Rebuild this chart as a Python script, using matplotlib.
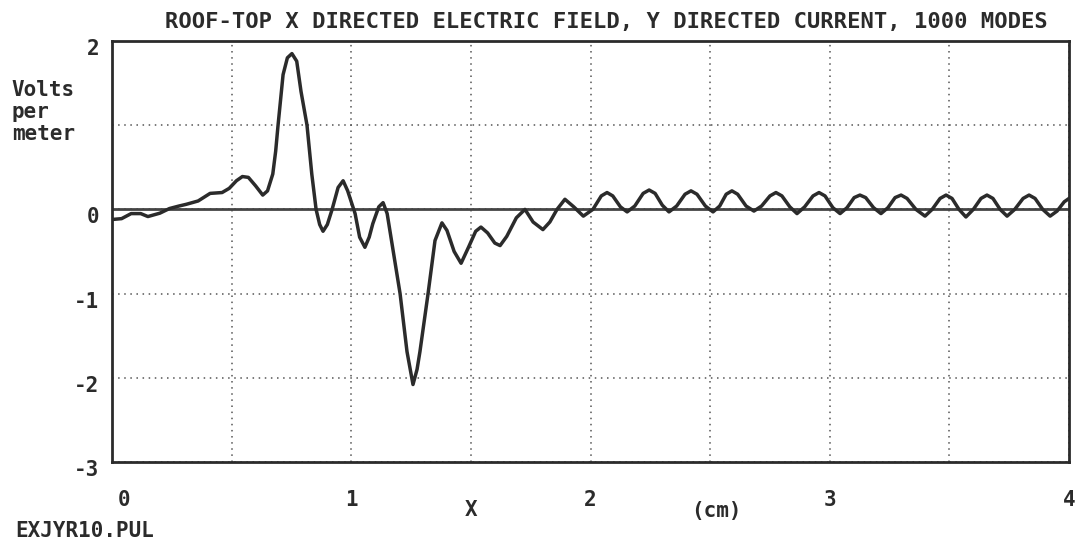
import matplotlib
matplotlib.use('Agg')
import matplotlib.pyplot as plt
import matplotlib.transforms as mtransforms
import numpy as np

# values (x in cm, field in V/m)
x_cm = [0.000, 0.040, 0.080, 0.120, 0.150, 0.200, 0.240, 0.280, 0.310, 0.360,
        0.410, 0.460, 0.490, 0.520, 0.545, 0.570, 0.600, 0.630, 0.650, 0.672,
        0.684, 0.694, 0.715, 0.733, 0.752, 0.772, 0.790, 0.815, 0.835, 0.853,
        0.868, 0.882, 0.900, 0.920, 0.945, 0.966, 0.985, 1.016, 1.035, 1.057,
        1.075, 1.090, 1.115, 1.133, 1.150, 1.170, 1.204, 1.233, 1.258, 1.275,
        1.287, 1.321, 1.350, 1.379, 1.400, 1.430, 1.459, 1.490, 1.520, 1.542,
        1.570, 1.600, 1.622, 1.650, 1.690, 1.726, 1.760, 1.801, 1.830, 1.860,
        1.893, 1.930, 1.970,
        2.010, 2.045, 2.069, 2.093, 2.125, 2.153,
        2.185, 2.220, 2.245, 2.270, 2.300, 2.328,
        2.360, 2.395, 2.420, 2.445, 2.480, 2.512,
        2.540, 2.567, 2.591, 2.615, 2.650, 2.683,
        2.715, 2.750, 2.775, 2.800, 2.833, 2.863,
        2.895, 2.930, 2.955, 2.980, 3.013, 3.043,
        3.072, 3.102, 3.126, 3.150, 3.183, 3.214,
        3.243, 3.273, 3.298, 3.323, 3.360, 3.398,
        3.428, 3.461, 3.486, 3.511, 3.540, 3.569,
        3.600, 3.632, 3.657, 3.682, 3.712, 3.741,
        3.773, 3.808, 3.833, 3.858, 3.890, 3.921,
        3.950, 3.980, 4.000]
e_field = [-0.12, -0.11, -0.05, -0.05, -0.085, -0.045, 0.01, 0.04, 0.06, 0.10,
           0.19, 0.20, 0.25, 0.34, 0.39, 0.38, 0.28, 0.17, 0.22, 0.42,
           0.69, 1.00, 1.60, 1.80, 1.85, 1.76, 1.40, 1.00, 0.42, 0.00,
           -0.18, -0.26, -0.18, 0.00, 0.26, 0.34, 0.22, -0.05, -0.33, -0.45,
           -0.33, -0.17, 0.03, 0.08, -0.05, -0.40, -1.00, -1.69, -2.08, -1.90,
           -1.69, -1.00, -0.37, -0.16, -0.25, -0.50, -0.64, -0.45, -0.26, -0.21,
           -0.28, -0.40, -0.43, -0.32, -0.10, 0.00, -0.15, -0.24, -0.15, 0.00,
           0.12, 0.03, -0.08,
           0.00, 0.16, 0.20, 0.16, 0.03, -0.03,
           0.04, 0.19, 0.23, 0.19, 0.05, -0.03,
           0.04, 0.18, 0.22, 0.18, 0.04, -0.03,
           0.04, 0.18, 0.22, 0.18, 0.04, -0.02,
           0.04, 0.16, 0.20, 0.16, 0.03, -0.05,
           0.03, 0.16, 0.20, 0.16, 0.02, -0.05,
           0.02, 0.14, 0.17, 0.14, 0.02, -0.05,
           0.02, 0.14, 0.17, 0.13, 0.00, -0.08,
           0.00, 0.13, 0.17, 0.13, 0.00, -0.09,
           0.00, 0.13, 0.17, 0.13, 0.00, -0.08,
           0.00, 0.13, 0.17, 0.13, 0.00, -0.08,
           -0.02, 0.09, 0.13]

x_ticks = [0, 1, 2, 3, 4]
y_ticks = [-3, -2, -1, 0, 1, 2]
y_tick_labels = ['-3', '-2', '-1', '0', '', '2']

ink = '#2b2b2b'
font = 'DejaVu Sans Mono'

fig = plt.figure(figsize=(10.77, 5.42), dpi=100)
ax = fig.add_axes([0.104, 0.1476, 0.8886, 0.7768])

ax.plot(x_cm, e_field, color=ink, lw=2.5, solid_joinstyle='round', zorder=3)
ax.axhline(0, color='#444444', lw=2.0, zorder=2)

ax.set_xlim(0, 4)
ax.set_ylim(-3, 2)
ax.set_xticks(x_ticks)
ax.set_xticks(np.arange(0.5, 4, 1.0), minor=True)
ax.set_xticklabels([str(v) for v in x_ticks])
ax.set_yticks(y_ticks)
ax.set_yticklabels(y_tick_labels)
ax.tick_params(which='both', length=0)
ax.tick_params(axis='x', pad=20)
ax.tick_params(axis='y', pad=9)
ax.grid(True, which='both', color='#555555', lw=1.1, ls=(0, (1, 3)))

for s in ax.spines.values():
    s.set_linewidth(2.0)
    s.set_color(ink)

for lab in ax.get_xticklabels() + ax.get_yticklabels():
    lab.set_fontfamily(font)
    lab.set_fontweight('bold')
    lab.set_fontsize(15)
    lab.set_color(ink)

down = mtransforms.ScaledTranslation(0, -6 / 100, fig.dpi_scale_trans)
for lab in ax.get_yticklabels():
    lab.set_transform(lab.get_transform() + down)
first = ax.get_xticklabels()[0]
first.set_transform(first.get_transform() + mtransforms.ScaledTranslation(12 / 100, 0, fig.dpi_scale_trans))

fig.text(0.563, 0.959, 'ROOF-TOP X DIRECTED ELECTRIC FIELD, Y DIRECTED CURRENT, 1000 MODES',
         ha='center', va='center', fontsize=15.9, fontweight='bold', family=font, color=ink)
fig.text(0.011, 1 - 80 / 542, 'Volts\nper\nmeter', ha='left', va='top', fontsize=15,
         fontweight='bold', family=font, color=ink, linespacing=1.12)

trans = mtransforms.blended_transform_factory(ax.transData, fig.transFigure)
ax.text(1.5, 1 - 510 / 542, 'X', transform=trans, ha='center', va='center',
        fontsize=15, fontweight='bold', family=font, color=ink)
ax.text(2.525, 1 - 511 / 542, '(cm)', transform=trans, ha='center', va='center',
        fontsize=15, fontweight='bold', family=font, color=ink)
fig.text(0.014, 1 - 531 / 542, 'EXJYR10.PUL', ha='left', va='center', fontsize=15,
         fontweight='bold', family=font, color=ink)

plt.savefig('out.png', dpi=100)
